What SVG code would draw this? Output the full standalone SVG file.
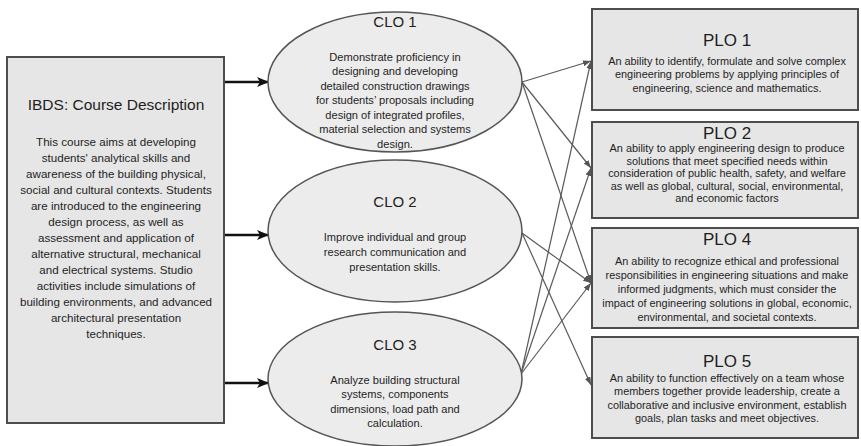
<svg xmlns="http://www.w3.org/2000/svg" width="861" height="446" viewBox="0 0 861 446">
<defs>
<marker id="bigArrow" markerWidth="12" markerHeight="10" refX="11" refY="5" orient="auto" markerUnits="userSpaceOnUse">
<path d="M0,0 L12,5 L0,10 L3,5 z" fill="#111"/>
</marker>
<marker id="thinArrow" markerWidth="8" markerHeight="6" refX="8" refY="3" orient="auto" markerUnits="userSpaceOnUse">
<path d="M0,0 L8,3 L0,6 z" fill="#555"/>
</marker>
<style>
text{font-family:"Liberation Sans",Arial,sans-serif;fill:#1e1e1e;text-anchor:middle}
.box{fill:#e6e6e6;stroke:#4d4d4d;stroke-width:2}
.ell{fill:#ececec;stroke:#555;stroke-width:1.5}
.ttl{font-size:15.5px}
.ctl{font-size:15px}
.ptl{font-size:17px}
.body{font-size:11.6px}
.cb{font-size:11.1px}
.pb{font-size:10.9px}
.big{stroke:#111;stroke-width:2.5;fill:none}
.thin{stroke:#5a5a5a;stroke-width:1.2;fill:none}
</style>
</defs>
<rect width="861" height="446" fill="#ffffff"/>

<g id="connectors">
<line class="big" x1="224" y1="82" x2="268" y2="82" marker-end="url(#bigArrow)"/>
<line class="big" x1="224" y1="235" x2="268" y2="235" marker-end="url(#bigArrow)"/>
<line class="big" x1="224" y1="383" x2="268" y2="383" marker-end="url(#bigArrow)"/>
<line class="thin" x1="522" y1="82" x2="591" y2="61" marker-end="url(#thinArrow)"/>
<line class="thin" x1="522" y1="82" x2="591" y2="168" marker-end="url(#thinArrow)"/>
<line class="thin" x1="522" y1="82" x2="591" y2="283" marker-end="url(#thinArrow)"/>
<line class="thin" x1="522" y1="233" x2="591" y2="283" marker-end="url(#thinArrow)"/>
<line class="thin" x1="522" y1="233" x2="591" y2="385" marker-end="url(#thinArrow)"/>
<line class="thin" x1="521" y1="374" x2="591" y2="61" marker-end="url(#thinArrow)"/>
<line class="thin" x1="521" y1="374" x2="591" y2="168" marker-end="url(#thinArrow)"/>
<line class="thin" x1="521" y1="374" x2="591" y2="283" marker-end="url(#thinArrow)"/>
</g>

<g id="course">
<rect class="box" x="7" y="57" width="217" height="366"/>
<text class="ttl" x="116" y="110">IBDS: Course Description</text>
<text class="body" x="116" y="145.5">This course aims at developing</text>
<text class="body" x="116" y="161.5">students' analytical skills and</text>
<text class="body" x="116" y="177.5">awareness of the building physical,</text>
<text class="body" x="116" y="193.5">social and cultural contexts. Students</text>
<text class="body" x="116" y="209.5">are introduced to the engineering</text>
<text class="body" x="116" y="225.5">design process, as well as</text>
<text class="body" x="116" y="241.5">assessment and application of</text>
<text class="body" x="116" y="257.5">alternative structural, mechanical</text>
<text class="body" x="116" y="273.5">and electrical systems. Studio</text>
<text class="body" x="116" y="289.5">activities include simulations of</text>
<text class="body" x="116" y="305.5">building environments, and advanced</text>
<text class="body" x="116" y="321.5">architectural presentation</text>
<text class="body" x="116" y="337.5">techniques.</text>
</g>

<g id="clo1">
<ellipse class="ell" cx="395" cy="82" rx="127" ry="70"/>
<text class="ctl" x="395" y="27">CLO 1</text>
<text class="cb" x="395" y="60.5">Demonstrate proficiency in</text>
<text class="cb" x="395" y="75">designing and developing</text>
<text class="cb" x="395" y="89.5">detailed construction drawings</text>
<text class="cb" x="395" y="104">for students’ proposals including</text>
<text class="cb" x="395" y="118.5">design of integrated profiles,</text>
<text class="cb" x="395" y="133">material selection and systems</text>
<text class="cb" x="395" y="147.5">design.</text>
</g>

<g id="clo2">
<ellipse class="ell" cx="395" cy="231" rx="127" ry="71"/>
<text class="ctl" x="395" y="207">CLO 2</text>
<text class="cb" x="395" y="240.5">Improve individual and group</text>
<text class="cb" x="395" y="255.5">research communication and</text>
<text class="cb" x="395" y="270.5">presentation skills.</text>
</g>

<g id="clo3">
<ellipse class="ell" cx="395" cy="379" rx="127" ry="67"/>
<text class="ctl" x="395" y="350">CLO 3</text>
<text class="cb" x="395" y="383.5">Analyze building structural</text>
<text class="cb" x="395" y="398">systems, components</text>
<text class="cb" x="395" y="412.5">dimensions, load path and</text>
<text class="cb" x="395" y="427">calculation.</text>
</g>

<g id="plo1">
<rect class="box" x="592" y="9" width="266" height="101"/>
<text class="ptl" x="727" y="46">PLO 1</text>
<text class="pb" x="727" y="64.5">An ability to identify, formulate and solve complex</text>
<text class="pb" x="727" y="78">engineering problems by applying principles of</text>
<text class="pb" x="727" y="91.5">engineering, science and mathematics.</text>
</g>

<g id="plo2">
<rect class="box" x="592" y="122" width="266" height="96"/>
<text class="ptl" x="727" y="139">PLO 2</text>
<text class="pb" x="727" y="152">An ability to apply engineering design to produce</text>
<text class="pb" x="727" y="164.5">solutions that meet specified needs within</text>
<text class="pb" x="727" y="177">consideration of public health, safety, and welfare</text>
<text class="pb" x="727" y="189.5">as well as global, cultural, social, environmental,</text>
<text class="pb" x="727" y="202">and economic factors</text>
</g>

<g id="plo4">
<rect class="box" x="592" y="228" width="266" height="100"/>
<text class="ptl" x="727" y="245">PLO 4</text>
<text class="pb" x="727" y="265">An ability to recognize ethical and professional</text>
<text class="pb" x="727" y="279">responsibilities in engineering situations and make</text>
<text class="pb" x="727" y="293">informed judgments, which must consider the</text>
<text class="pb" x="727" y="307">impact of engineering solutions in global, economic,</text>
<text class="pb" x="727" y="321">environmental, and societal contexts.</text>
</g>

<g id="plo5">
<rect class="box" x="592" y="337" width="266" height="101"/>
<text class="ptl" x="727" y="367">PLO 5</text>
<text class="pb" x="727" y="381.5">An ability to function effectively on a team whose</text>
<text class="pb" x="727" y="395">members together provide leadership, create a</text>
<text class="pb" x="727" y="408.5">collaborative and inclusive environment, establish</text>
<text class="pb" x="727" y="422">goals, plan tasks and meet objectives.</text>
</g>
</svg>
